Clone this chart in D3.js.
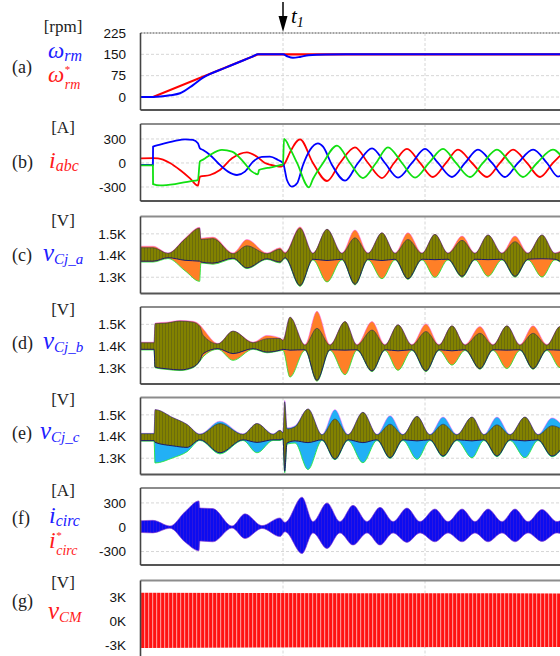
<!DOCTYPE html>
<html>
<head>
<meta charset="utf-8">
<script src="https://cdn.jsdelivr.net/npm/d3@7"></script>
<style>
body { margin: 0; background: #fff; }
</style>
</head>
<body>
<div id="chart"></div>
<script>
// time axis in seconds, grid every second, t1 = load step
const timeGrid = [1, 2];
const t1 = 1.0;

// (a) speed [rpm]
const speedTicks = [0, 75, 150, 225];
const speedRef = [[0, 0], [0.085, 0], [0.824, 150], [3.0, 150]];
const speedMeas = [[0, 0], [0.085, 0], [0.204, 6], [0.275, 13], [0.366, 42], [0.437, 68], [0.60, 104], [0.78, 141],
    [0.824, 150], [1.0, 150], [1.035, 142], [1.07, 138], [1.12, 141], [1.18, 147], [1.3, 149.5], [1.45, 150], [3.0, 150]];

// (b) phase currents [A]
const currentTicks = [-300, 0, 300];
const ia = [[0, 58], [0.085, 60], [0.120, 58], [0.204, 0], [0.275, -88], [0.345, -192], [0.401, -283], [0.415, -171],
    [0.486, -150], [0.556, -88], [0.641, 58], [0.746, 133], [0.817, 79], [0.873, 0], [0.908, -20], [0.986, -45],
    [1.014, 0], [1.049, 133], [1.120, 296], [1.211, 0], [1.310, -225], [1.401, 0], [1.507, 196], [1.599, 0],
    [1.697, -188], [1.782, 0], [1.873, 175], [1.965, 0], [2.056, -175], [2.148, 0], [2.232, 167], [2.331, 0],
    [2.437, -175], [2.528, 0], [2.620, 167], [2.718, 0], [2.810, -175], [2.901, 0], [2.993, 167]];
const ib = [[0, -25], [0.084, -25], [0.085, 204], [0.134, 229], [0.239, 275], [0.310, 296], [0.366, 288], [0.401, 246],
    [0.415, 183], [0.437, 162], [0.486, 100], [0.542, 0], [0.613, -108], [0.676, -150], [0.732, -108], [0.789, 17],
    [0.852, 75], [0.908, 79], [0.965, 38], [1.000, 0], [1.028, -213], [1.063, -296], [1.099, -254], [1.141, -25],
    [1.190, 162], [1.246, 246], [1.282, 204], [1.345, -25], [1.437, -221], [1.528, 0], [1.627, 183], [1.718, 0],
    [1.810, -183], [1.908, 0], [2.000, 175], [2.092, 0], [2.190, -175], [2.282, 0], [2.373, 167], [2.472, 0],
    [2.563, -175], [2.655, 0], [2.761, 167], [2.859, 0], [2.937, -170], [2.993, -100]];
const ic = [[0, -30], [0.084, -30], [0.085, -263], [0.134, -279], [0.239, -263], [0.345, -229], [0.401, -213], [0.415, 21],
    [0.437, 42], [0.486, 100], [0.570, 163], [0.641, 142], [0.718, 21], [0.782, -108], [0.824, -142], [0.831, -88],
    [0.873, -67], [0.908, -58], [0.986, -25], [1.000, -20], [1.007, 300], [1.049, 183], [1.099, 0], [1.183, -304],
    [1.211, -200], [1.282, 0], [1.380, 217], [1.472, 0], [1.563, -188], [1.655, 0], [1.739, 196], [1.838, 0],
    [1.930, -183], [2.028, 0], [2.127, 175], [2.218, 0], [2.317, -175], [2.408, 0], [2.507, 167], [2.599, 0],
    [2.690, -175], [2.789, 0], [2.901, 167], [2.993, 0]];

// (c)-(e) capacitor voltages [V]: [t, outer max, main band max, main band min, outer min]
const capTicks = [1300, 1400, 1500];
const vcaEnv = [[0, 1443, 1436, 1374, 1370], [0.085, 1443, 1436, 1374, 1370], [0.190, 1412, 1410, 1390, 1386],
    [0.310, 1480, 1476, 1378, 1330], [0.413, 1530, 1526, 1374, 1281], [0.422, 1480, 1474, 1370, 1366],
    [0.507, 1485, 1478, 1365, 1360], [0.648, 1412, 1408, 1388, 1384], [0.746, 1474, 1445, 1343, 1340],
    [0.887, 1412, 1408, 1385, 1382], [0.979, 1436, 1430, 1370, 1366], [1.014, 1415, 1410, 1390, 1386],
    [1.120, 1532, 1526, 1262, 1258], [1.211, 1412, 1410, 1383, 1380], [1.310, 1521, 1521, 1377, 1278],
    [1.415, 1412, 1410, 1383, 1380], [1.507, 1518, 1482, 1268, 1265], [1.599, 1412, 1410, 1383, 1380],
    [1.697, 1505, 1505, 1377, 1293], [1.789, 1412, 1410, 1383, 1380], [1.880, 1505, 1474, 1293, 1290],
    [1.979, 1412, 1410, 1383, 1380], [2.070, 1498, 1498, 1381, 1299], [2.162, 1412, 1410, 1383, 1380],
    [2.261, 1490, 1470, 1304, 1300], [2.352, 1412, 1410, 1383, 1380], [2.444, 1495, 1495, 1381, 1304],
    [2.542, 1412, 1410, 1383, 1380], [2.634, 1490, 1464, 1304, 1300], [2.725, 1412, 1410, 1383, 1380],
    [2.824, 1495, 1495, 1385, 1301], [2.915, 1412, 1410, 1383, 1380], [3.0, 1450, 1430, 1340, 1335]];
const vcbEnv = [[0, 1418, 1415, 1385, 1382], [0.092, 1418, 1415, 1385, 1382], [0.099, 1506, 1503, 1303, 1300],
    [0.183, 1510, 1506, 1295, 1292], [0.275, 1518, 1515, 1290, 1287], [0.366, 1514, 1510, 1303, 1300],
    [0.415, 1497, 1490, 1334, 1330], [0.437, 1480, 1450, 1365, 1350], [0.542, 1412, 1410, 1388, 1385],
    [0.648, 1469, 1469, 1365, 1334], [0.789, 1418, 1415, 1388, 1385], [0.887, 1449, 1434, 1372, 1369],
    [0.979, 1437, 1435, 1381, 1378], [1.000, 1430, 1425, 1385, 1380], [1.049, 1533, 1533, 1381, 1257],
    [1.155, 1407, 1404, 1383, 1380], [1.239, 1560, 1482, 1242, 1238], [1.331, 1407, 1404, 1383, 1380],
    [1.437, 1513, 1513, 1381, 1268], [1.521, 1407, 1404, 1383, 1380], [1.627, 1513, 1474, 1285, 1282],
    [1.718, 1407, 1404, 1383, 1380], [1.810, 1498, 1498, 1378, 1288], [1.908, 1407, 1404, 1383, 1380],
    [2.007, 1502, 1467, 1285, 1282], [2.099, 1407, 1404, 1383, 1380], [2.190, 1493, 1493, 1378, 1312],
    [2.282, 1407, 1404, 1383, 1380], [2.387, 1490, 1459, 1296, 1293], [2.479, 1407, 1404, 1383, 1380],
    [2.577, 1493, 1493, 1381, 1296], [2.669, 1407, 1404, 1383, 1380], [2.761, 1493, 1459, 1296, 1293],
    [2.859, 1407, 1404, 1383, 1380], [2.951, 1490, 1490, 1381, 1300], [3.0, 1460, 1460, 1385, 1340]];
const vccEnv = [[0, 1415, 1413, 1381, 1379], [0.092, 1415, 1413, 1381, 1379], [0.099, 1524, 1524, 1373, 1278],
    [0.225, 1487, 1487, 1357, 1302], [0.324, 1456, 1456, 1350, 1330], [0.415, 1412, 1410, 1385, 1382],
    [0.556, 1471, 1460, 1325, 1320], [0.718, 1412, 1410, 1385, 1382], [0.817, 1460, 1460, 1373, 1325],
    [0.930, 1412, 1410, 1385, 1382], [0.979, 1430, 1428, 1385, 1382], [1.000, 1420, 1418, 1390, 1388],
    [1.012, 1566, 1560, 1240, 1233], [1.028, 1440, 1435, 1370, 1365], [1.085, 1450, 1445, 1380, 1370],
    [1.176, 1527, 1527, 1372, 1248], [1.275, 1410, 1408, 1385, 1382], [1.366, 1524, 1481, 1296, 1293],
    [1.458, 1410, 1408, 1385, 1382], [1.563, 1512, 1512, 1372, 1279], [1.662, 1410, 1408, 1385, 1382],
    [1.754, 1496, 1457, 1302, 1299], [1.845, 1410, 1408, 1385, 1382], [1.944, 1493, 1493, 1380, 1295],
    [2.035, 1410, 1408, 1385, 1382], [2.127, 1490, 1457, 1310, 1307], [2.225, 1410, 1408, 1385, 1382],
    [2.331, 1490, 1490, 1380, 1302], [2.415, 1410, 1408, 1385, 1382], [2.507, 1490, 1454, 1310, 1307],
    [2.599, 1410, 1408, 1385, 1382], [2.704, 1490, 1490, 1380, 1302], [2.796, 1410, 1408, 1385, 1382],
    [2.894, 1486, 1450, 1310, 1307], [3.0, 1420, 1418, 1385, 1382]];

// (f) circulating current envelope [A]: [t, max, min]
const circTicks = [-300, 0, 300];
const icircEnv = [[0, 80, -65], [0.085, 85, -70], [0.204, 15, -12], [0.310, 192, -183], [0.408, 325, -290],
    [0.415, 237, -170], [0.507, 230, -180], [0.641, 15, -10], [0.732, 165, -140], [0.852, 20, -15],
    [0.979, 115, -115], [1.014, 60, -55], [1.134, 371, -325], [1.211, 70, -70], [1.310, 300, -262],
    [1.401, 70, -70], [1.493, 270, -220], [1.592, 70, -70], [1.683, 245, -220], [1.775, 70, -70],
    [1.873, 237, -187], [1.965, 70, -70], [2.070, 225, -180], [2.162, 70, -70], [2.261, 225, -180],
    [2.352, 70, -70], [2.444, 225, -180], [2.542, 70, -70], [2.634, 225, -180], [2.725, 70, -70],
    [2.824, 220, -175], [2.930, 70, -70], [3.0, 150, -120]];

// (g) common-mode voltage envelope [V]
const cmTicks = [-3000, 0, 3000];
const vcmEnv = [[0, 3500, -3350], [1.5, 3450, -3280], [3.0, 3420, -3220]];

const svg = d3.select("#chart").append("svg")
    .attr("width", 560)
    .attr("height", 656);

const defs = svg.append("defs");

// hatch patterns for the dense switching waveforms
function stripes(id, base, line, w, step, op) {
    const p = defs.append("pattern").attr("id", id)
        .attr("patternUnits", "userSpaceOnUse")
        .attr("width", step).attr("height", 10);
    p.append("rect").attr("width", step).attr("height", 10).attr("fill", base);
    p.append("rect").attr("width", w).attr("height", 10).attr("fill", line).attr("opacity", op);
}
stripes("olive", "#828200", "#4a4a1e", 0.8, 3, 0.5);
stripes("blueh", "#0c0cf0", "#b040a0", 0.6, 3, 0.3);
stripes("redh", "#ff1212", "#ff9c9c", 1.2, 4, 0.9);

const x = d3.scaleLinear().domain([0, 3]).range([141, 567]);
const panelH = 77;
const serif = "'Liberation Serif', 'Times New Roman', serif";
const sans = "'Liberation Sans', Arial, sans-serif";

function makePanel(i, top, domain, ticks, fmt) {
    const y = d3.scaleLinear().domain(domain).range([top + panelH, top]);
    const g = svg.append("g");
    defs.append("clipPath").attr("id", "clip" + i)
        .append("rect")
        .attr("x", x(0)).attr("y", top)
        .attr("width", x(3) - x(0)).attr("height", panelH);

    g.selectAll(".hgrid")
        .data(ticks.filter(d => y(d) > top + 1))
        .enter().append("line")
        .attr("x1", x(0)).attr("x2", x(3))
        .attr("y1", d => y(d)).attr("y2", d => y(d))
        .attr("stroke", "#d6d6d6")
        .attr("stroke-dasharray", "3,2");
    g.selectAll(".vgrid")
        .data(timeGrid)
        .enter().append("line")
        .attr("x1", d => x(d)).attr("x2", d => x(d))
        .attr("y1", top).attr("y2", top + panelH)
        .attr("stroke", "#d6d6d6")
        .attr("stroke-dasharray", "3,2");

    const axis = g.append("g")
        .attr("transform", `translate(${x(0)},0)`)
        .call(d3.axisLeft(y).tickValues(ticks).tickSize(0).tickPadding(15).tickFormat(fmt));
    axis.select(".domain").remove();
    axis.selectAll("text")
        .style("font-size", "13.5px")
        .style("font-family", sans)
        .attr("fill", "#111");

    const plot = g.append("g").attr("clip-path", `url(#clip${i})`);
    return { y, plot, top };
}

function frame(p, dashedTop) {
    const b = p.top + panelH;
    svg.append("line").attr("x1", x(0) - 0.5).attr("x2", 567).attr("y1", p.top).attr("y2", p.top)
        .attr("stroke", dashedTop ? "#444" : "#8c8c8c")
        .attr("stroke-width", dashedTop ? 1 : 2)
        .attr("stroke-dasharray", dashedTop ? "2,1" : null);
    svg.append("line").attr("x1", x(0) - 0.5).attr("x2", 567).attr("y1", b).attr("y2", b)
        .attr("stroke", "#555").attr("stroke-width", 1.8);
    svg.append("line").attr("x1", x(0) - 0.5).attr("x2", x(0) - 0.5).attr("y1", p.top).attr("y2", b)
        .attr("stroke", "#444").attr("stroke-width", 1.6);
}

const lineOf = (y, curve) => d3.line().x(d => x(d[0])).y(d => y(d[1])).curve(curve);

// (a) speed
const pa = makePanel(0, 33, [-45.7, 225], speedTicks, d => d);
pa.plot.append("path").datum(speedRef)
    .attr("d", lineOf(pa.y, d3.curveLinear))
    .attr("fill", "none").attr("stroke", "#ff0000").attr("stroke-width", 2.2);
pa.plot.append("path").datum(speedMeas)
    .attr("d", lineOf(pa.y, d3.curveMonotoneX))
    .attr("fill", "none").attr("stroke", "#0000ff").attr("stroke-width", 2);
frame(pa, true);

// (b) phase currents
const pb = makePanel(1, 124, [-475, 487], currentTicks, d => d);
[[ia, "#ff0000"], [ib, "#0000ff"], [ic, "#11e011"]].forEach(([s, c]) => {
    pb.plot.append("path").datum(s)
        .attr("d", lineOf(pb.y, d3.curveMonotoneX))
        .attr("fill", "none").attr("stroke", c).attr("stroke-width", 1.8);
});
frame(pb, false);

// (c)-(e) capacitor voltages
function capPanel(i, top, env, outerColor) {
    const p = makePanel(i, top, [1225, 1580], capTicks, d => (d / 1000).toFixed(1) + "K");
    const y = p.y;
    const outer = d3.area().x(d => x(d[0])).y0(d => y(d[4])).y1(d => y(d[1])).curve(d3.curveMonotoneX);
    const inner = d3.area().x(d => x(d[0])).y0(d => y(d[3])).y1(d => y(d[2])).curve(d3.curveMonotoneX);
    const edge = k => d3.line().x(d => x(d[0])).y(d => y(d[k])).curve(d3.curveMonotoneX);

    p.plot.append("path").datum(env).attr("d", outer).attr("fill", outerColor);
    p.plot.append("path").datum(env).attr("d", edge(1))
        .attr("fill", "none").attr("stroke", "#ff55ff").attr("stroke-width", 0.7).attr("opacity", 0.7);
    p.plot.append("path").datum(env).attr("d", edge(4))
        .attr("fill", "none").attr("stroke", "#22e83a").attr("stroke-width", 1).attr("opacity", 0.85);
    p.plot.append("path").datum(env).attr("d", inner).attr("fill", "url(#olive)");
    p.plot.append("path").datum(env).attr("d", edge(2))
        .attr("fill", "none").attr("stroke", "#2a2a5e").attr("stroke-width", 0.7).attr("opacity", 0.8);
    p.plot.append("path").datum(env).attr("d", edge(3))
        .attr("fill", "none").attr("stroke", "#1c1c6a").attr("stroke-width", 1);
    frame(p, false);
}
capPanel(2, 216.5, vcaEnv, "#ff7f27");
capPanel(3, 307, vcbEnv, "#ff7f27");
capPanel(4, 397.5, vccEnv, "#22b0f5");

// (f) circulating current
const pf = makePanel(5, 488, [-466, 484], circTicks, d => d);
pf.plot.append("path").datum(icircEnv)
    .attr("d", d3.area().x(d => x(d[0])).y0(d => pf.y(d[2])).y1(d => pf.y(d[1])).curve(d3.curveMonotoneX))
    .attr("fill", "url(#blueh)")
    .attr("stroke", "#8a3ad0").attr("stroke-width", 0.6);
frame(pf, false);

// (g) common-mode voltage
const pg = makePanel(6, 580.5, [-4540, 5025], cmTicks, d => (d / 1000) + "K");
pg.plot.append("path").datum(vcmEnv)
    .attr("d", d3.area().x(d => x(d[0])).y0(d => pg.y(d[2])).y1(d => pg.y(d[1])))
    .attr("fill", "url(#redh)");
frame(pg, false);

// t1 marker
const xt = x(t1);
svg.append("line").attr("x1", xt).attr("x2", xt).attr("y1", 2).attr("y2", 18)
    .attr("stroke", "#000").attr("stroke-width", 1.5);
svg.append("path").attr("d", `M${xt - 4.5},16 L${xt + 4.5},16 L${xt},32 Z`).attr("fill", "#000");
const tl = svg.append("text").attr("x", xt + 8).attr("y", 23)
    .style("font-family", serif).style("font-style", "italic").style("font-size", "21px").text("t");
tl.append("tspan").attr("dy", 4).style("font-size", "14px").text("1");

// left side labels
const blue = "#2020ff", red = "#ff1a1a";
function plain(txt, xp, yp, size, anchor) {
    svg.append("text").attr("x", xp).attr("y", yp)
        .attr("text-anchor", anchor || "start")
        .style("font-family", serif).style("font-size", size + "px").attr("fill", "#222")
        .text(txt);
}
function sym(main, sub, xp, yp, color, mainSize, subSize) {
    const t = svg.append("text").attr("x", xp).attr("y", yp)
        .style("font-family", serif).style("font-style", "italic")
        .style("font-size", mainSize + "px").attr("fill", color).text(main);
    t.append("tspan").attr("dy", 3).style("font-size", subSize + "px").text(sub);
    return t;
}
// symbol with a star above the subscript
function symStar(main, sub, xp, yp, color, mainSize, back) {
    const t = svg.append("text").attr("x", xp).attr("y", yp)
        .style("font-family", serif).style("font-style", "italic")
        .style("font-size", mainSize + "px").attr("fill", color).text(main);
    t.append("tspan").attr("dy", -9).style("font-size", "11px").text("*");
    t.append("tspan").attr("dx", -back).attr("dy", 16).style("font-size", "14px").text(sub);
}

const letters = ["(a)", "(b)", "(c)", "(d)", "(e)", "(f)", "(g)"];
const letterY = [73, 168, 261, 349, 439, 524, 607];
letters.forEach((l, i) => plain(l, 12, letterY[i], 18));

const units = ["[rpm]", "[A]", "[V]", "[V]", "[V]", "[A]", "[V]"];
const unitY = [32, 133, 226, 315, 405, 496, 588];
units.forEach((u, i) => plain(u, 63, unitY[i], 17, "middle"));

sym("ω", "rm", 48, 58, blue, 23, 16);
symStar("ω", "rm", 48, 82, red, 23, 5);

sym("i", "abc", 49, 168, red, 24, 16);
sym("v", "Cj_a", 43, 261, blue, 25, 15);
sym("v", "Cj_b", 43, 349, blue, 25, 15);
sym("v", "Cj_c", 40, 439, blue, 25, 15);
sym("i", "circ", 49, 523, blue, 24, 16);
symStar("i", "circ", 49, 548, red, 24, 5);
sym("v", "CM", 48, 619, red, 25, 15);
</script>
</body>
</html>
